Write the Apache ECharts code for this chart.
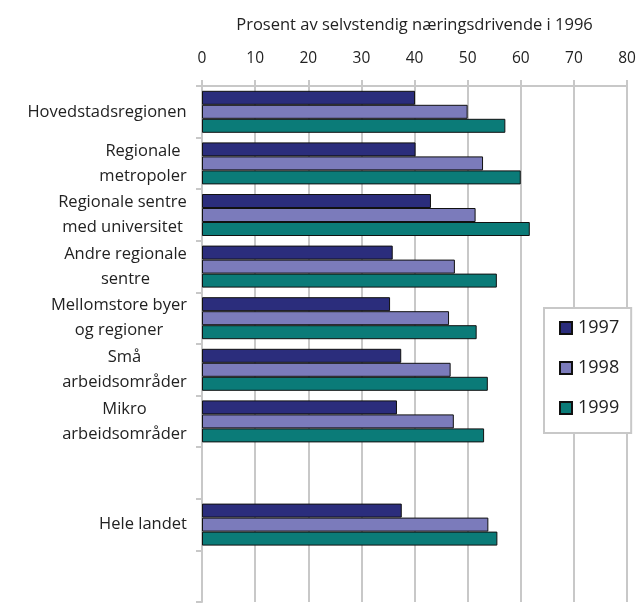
<!DOCTYPE html>
<html>
<head>
<meta charset="utf-8">
<style>
  html, body { margin: 0; padding: 0; background: #fff; }
  #chart { width: 639px; height: 606px; }
</style>
<script src="https://cdn.jsdelivr.net/npm/echarts@6/dist/echarts.min.js"></script>
</head>
<body>
<div id="chart"></div>
<script>
const categories = [
  'Hovedstadsregionen',
  'Regionale\nmetropoler',
  'Regionale sentre\nmed universitet',
  'Andre regionale\nsentre',
  'Mellomstore byer\nog regioner',
  'Små\narbeidsområder',
  'Mikro\narbeidsområder',
  '',
  'Hele landet',
  '',
]
const years = ['1997', '1998', '1999']
const values1997 = [40.1, 40.2, 43.1, 35.9, 35.4, 37.5, 36.7, null, 37.6, null]
const values1998 = [50.0, 52.9, 51.5, 47.6, 46.5, 46.8, 47.4, null, 53.9, null]
const values1999 = [57.1, 60.0, 61.7, 55.5, 51.7, 53.8, 53.1, null, 55.6, null]
const xTicks = [0, 10, 20, 30, 40, 50, 60, 70, 80]

const colors = ['#2b2d7c', '#7b7bbb', '#0b7b78']
const fontFamily = '"Open Sans", "Noto Sans", sans-serif'
const gridColor = '#c8c8c8'
const textColor = '#222'
const labelSize = 16.5

// lines of a label are centered on each other, the block sits right-aligned at the axis
const ctx = document.createElement('canvas').getContext('2d')
ctx.font = labelSize + 'px ' + fontFamily
function blockWidth(text) {
  return Math.ceil(Math.max(...text.split('\n').map((l) => ctx.measureText(l).width)))
}

const rich = {}
categories.forEach((c, i) => {
  rich['c' + i] = {
    width: blockWidth(c),
    align: 'center',
    fontSize: labelSize,
    fontFamily,
    color: textColor,
    lineHeight: 25,
  }
})

const chart = echarts.init(document.getElementById('chart'))

const option = {
  animation: false,
  textStyle: { fontFamily },
  grid: { left: 202, right: 12, top: 86, bottom: 4 },
  legend: {
    orient: 'vertical',
    left: 544,
    top: 308,
    data: years,
    icon: 'rect',
    itemWidth: 12,
    itemHeight: 12,
    itemGap: 22,
    padding: [11, 12, 16, 15],
    backgroundColor: '#fff',
    borderColor: gridColor,
    borderWidth: 2,
    textStyle: { fontSize: 18, color: textColor, padding: [0, 0, 0, 1] },
  },
  xAxis: {
    type: 'value',
    position: 'top',
    min: xTicks[0],
    max: xTicks[xTicks.length - 1],
    interval: 10,
    name: 'Prosent av selvstendig næringsdrivende i 1996',
    nameLocation: 'middle',
    nameGap: 52,
    nameTextStyle: { fontSize: 16.5, color: textColor },
    axisLine: { show: true, lineStyle: { color: gridColor, width: 2 } },
    axisTick: { show: true, length: 6, lineStyle: { color: gridColor, width: 2 } },
    axisLabel: { fontSize: 15.5, color: textColor, margin: 19 },
    splitLine: { show: true, lineStyle: { color: gridColor, width: 2 } },
  },
  yAxis: {
    type: 'category',
    inverse: true,
    data: categories,
    axisLine: { show: true, lineStyle: { color: gridColor, width: 2 } },
    axisTick: { show: true, length: 6, lineStyle: { color: gridColor, width: 2 } },
    axisLabel: {
      margin: 15,
      interval: 0,
      formatter: (value, index) =>
        value
          .split('\n')
          .map((line) => '{c' + index + '|' + line + '}')
          .join('\n'),
      rich,
    },
  },
  series: [values1997, values1998, values1999].map((vals, i) => ({
    name: years[i],
    type: 'bar',
    data: vals,
    barWidth: 14,
    barGap: '0%',
    itemStyle: { color: colors[i], borderColor: '#111', borderWidth: 1 },
  })),
}

chart.setOption(option)
</script>
</body>
</html>
